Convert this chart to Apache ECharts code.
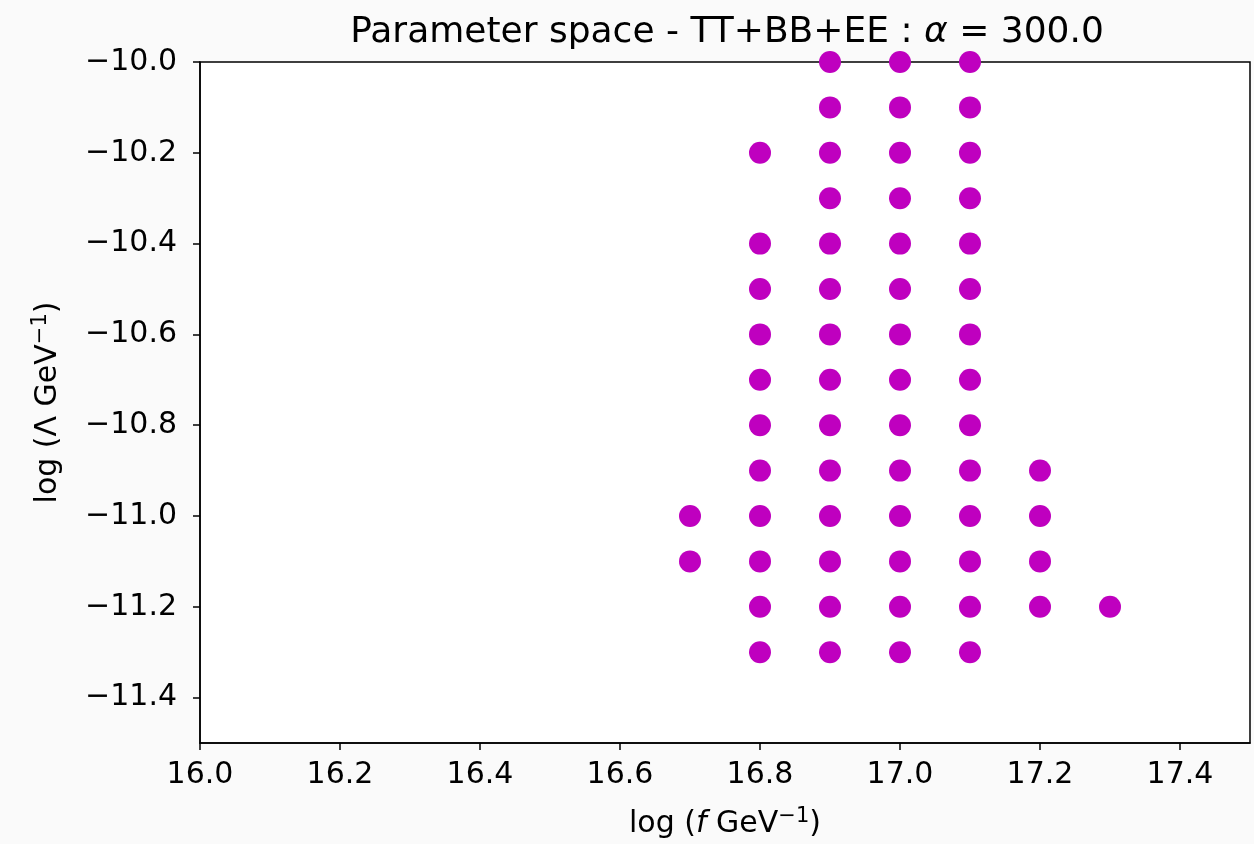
<!DOCTYPE html>
<html>
<head>
<meta charset="utf-8">
<script src="https://cdn.jsdelivr.net/npm/echarts@6/dist/echarts.min.js"></script>
<style>
  html, body { margin: 0; padding: 0; background: #fafafa; }
  #chart { width: 1254px; height: 844px; }
</style>
</head>
<body>
<div id="chart"></div>
<script>
// Grid columns of allowed (log f, log Λ) points
const fColumns = [16.7, 16.8, 16.9, 17.0, 17.1, 17.2, 17.3];
const lambda167 = [-11.0, -11.1];
const lambda168 = [-10.2, -10.4, -10.5, -10.6, -10.7, -10.8, -10.9, -11.0, -11.1, -11.2, -11.3];
const lambda169 = [-10.0, -10.1, -10.2, -10.3, -10.4, -10.5, -10.6, -10.7, -10.8, -10.9, -11.0, -11.1, -11.2, -11.3];
const lambda170 = [-10.0, -10.1, -10.2, -10.3, -10.4, -10.5, -10.6, -10.7, -10.8, -10.9, -11.0, -11.1, -11.2, -11.3];
const lambda171 = [-10.0, -10.1, -10.2, -10.3, -10.4, -10.5, -10.6, -10.7, -10.8, -10.9, -11.0, -11.1, -11.2, -11.3];
const lambda172 = [-10.9, -11.0, -11.1, -11.2];
const lambda173 = [-11.2];
const lambdaColumns = [lambda167, lambda168, lambda169, lambda170, lambda171, lambda172, lambda173];

const xTicks = [16.0, 16.2, 16.4, 16.6, 16.8, 17.0, 17.2, 17.4];
const yTicks = [-11.4, -11.2, -11.0, -10.8, -10.6, -10.4, -10.2, -10.0];

const points = [];
fColumns.forEach((f, i) => lambdaColumns[i].forEach(l => points.push([f, l])));

const FONT = 'DejaVu Sans';
const TICK_SIZE = 30;
const TITLE_SIZE = 36;
const SUP_SIZE = 21;
const fmt = v => v.toFixed(1).replace('-', '\u2212');

const chart = echarts.init(document.getElementById('chart'), null, { renderer: 'canvas' });
chart.setOption({
  backgroundColor: '#fafafa',
  animation: false,
  title: {
    text: '{a|Parameter space - TT+BB+EE : }{i|\u03b1}{a| = 300.0}',
    left: 722,
    textAlign: 'center',
    top: 10,
    textStyle: {
      fontWeight: 'normal',
      rich: {
        a: { fontFamily: FONT, fontSize: TITLE_SIZE, fontWeight: 'normal', color: '#000' },
        i: { fontFamily: FONT, fontSize: TITLE_SIZE, fontWeight: 'normal', fontStyle: 'italic', color: '#000' }
      }
    }
  },
  grid: {
    left: 200, right: 4, top: 62, bottom: 101,
    show: true, backgroundColor: '#ffffff', borderColor: '#000', borderWidth: 1.5
  },
  xAxis: {
    type: 'value', min: 16.0, max: 17.5,
    splitLine: { show: false },
    axisLine: { show: true, onZero: false, lineStyle: { color: '#000', width: 1.5 } },
    axisTick: { show: true, customValues: xTicks, length: 7, lineStyle: { color: '#000', width: 1.5 } },
    axisLabel: { customValues: xTicks, formatter: fmt, fontFamily: FONT, fontSize: TICK_SIZE, color: '#000', margin: 17 },
    name: '{a|log (}{i|f}{a| GeV}{s|\u22121}{a|)}',
    nameLocation: 'middle',
    nameGap: 63,
    nameTextStyle: {
      rich: {
        a: { fontFamily: FONT, fontSize: TICK_SIZE, color: '#000' },
        i: { fontFamily: FONT, fontSize: TICK_SIZE, fontStyle: 'italic', color: '#000' },
        s: { fontFamily: FONT, fontSize: SUP_SIZE, color: '#000', padding: [0, 0, 15, 0] }
      }
    }
  },
  yAxis: {
    type: 'value', min: -11.5, max: -10.0,
    splitLine: { show: false },
    axisLine: { show: true, onZero: false, lineStyle: { color: '#000', width: 1.5 } },
    axisTick: { show: true, customValues: yTicks, length: 7, lineStyle: { color: '#000', width: 1.5 } },
    axisLabel: { customValues: yTicks, formatter: fmt, fontFamily: FONT, fontSize: TICK_SIZE, color: '#000', margin: 23 },
    name: '{a|log (\u039b GeV}{s|\u22121}{a|)}',
    nameLocation: 'middle',
    nameRotate: 90,
    nameGap: 134,
    nameTextStyle: {
      rich: {
        a: { fontFamily: FONT, fontSize: TICK_SIZE, color: '#000' },
        s: { fontFamily: FONT, fontSize: SUP_SIZE, color: '#000', padding: [0, 0, 15, 0] }
      }
    }
  },
  series: [{
    type: 'scatter',
    data: points,
    symbol: 'circle',
    symbolSize: 22,
    itemStyle: { color: '#bf00bf', opacity: 1 }
  }]
});
</script>
</body>
</html>
